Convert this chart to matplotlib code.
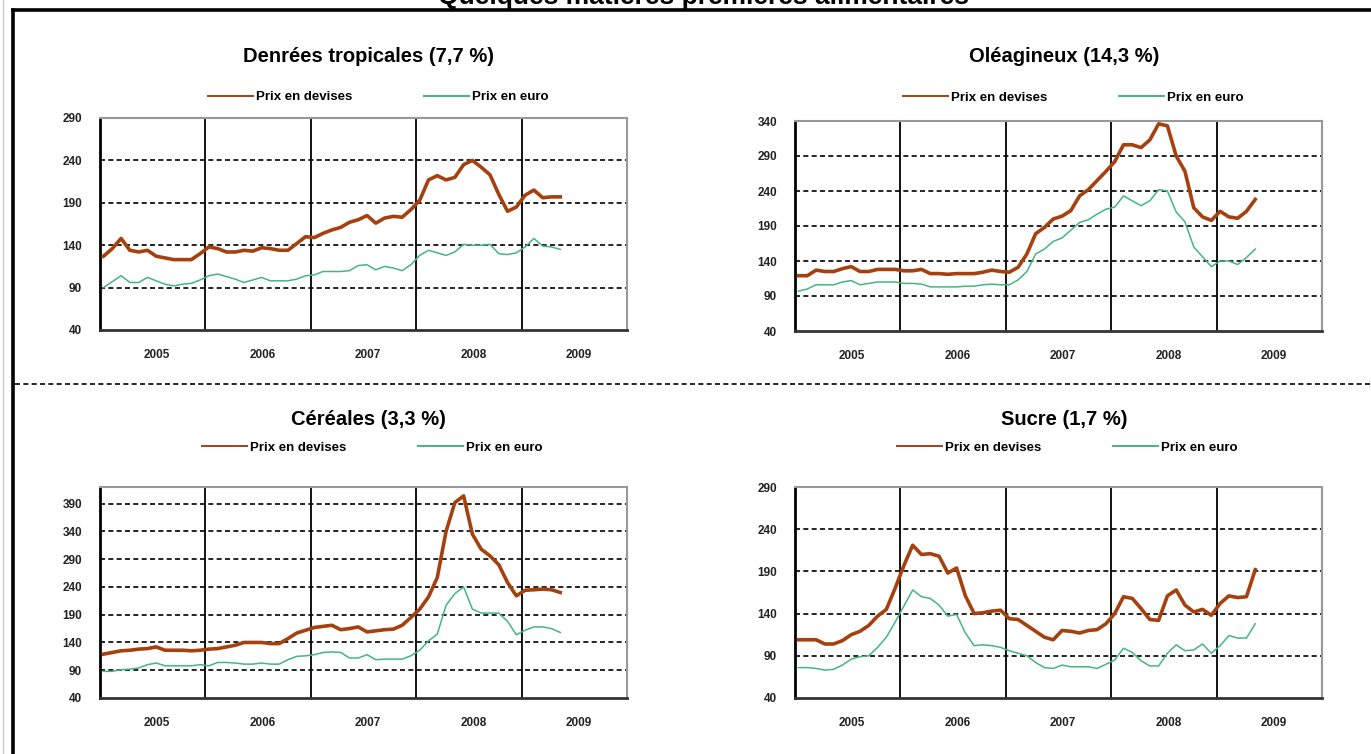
import numpy as np
import matplotlib
matplotlib.use('Agg')
import matplotlib.pyplot as plt
from matplotlib.lines import Line2D

plt.rcParams['font.family'] = ['Liberation Sans', 'DejaVu Sans']

# monthly index values, Jan 2005 .. May 2009
years = ['2005', '2006', '2007', '2008', '2009']

trop_dev = [127, 136, 148, 134, 132, 134, 127, 125, 123, 123, 123, 130,
            138, 136, 132, 132, 134, 133, 137, 136, 134, 134, 142, 150,
            149, 154, 158, 161, 167, 170, 175, 166, 172, 174, 173, 182,
            193, 217, 222, 217, 220, 235, 240, 232, 223, 200, 180, 185,
            199, 205, 196, 197, 197]
trop_eur = [90, 97, 104, 96, 96, 102, 98, 94, 92, 94, 95, 99,
            104, 106, 103, 100, 96, 99, 102, 98, 98, 98, 100, 104,
            105, 109, 109, 109, 110, 116, 117, 111, 115, 113, 110, 117,
            128, 134, 131, 128, 132, 141, 140, 140, 141, 130, 129, 131,
            138, 148, 139, 138, 135]

ole_dev = [119, 119, 127, 125, 125, 129, 132, 125, 125, 128, 128, 128,
           126, 126, 128, 122, 122, 121, 122, 122, 122, 124, 127, 125,
           124, 131, 150, 179, 188, 200, 204, 212, 233, 242, 255, 268,
           282, 306, 306, 302, 313, 336, 333, 290, 268, 216, 203, 198,
           211, 203, 201, 211, 228]
ole_eur = [97, 100, 106, 106, 106, 110, 112, 106, 108, 110, 110, 110,
           108, 108, 107, 103, 103, 103, 103, 104, 104, 106, 107, 106,
           106, 113, 125, 150, 157, 168, 173, 184, 195, 199, 207, 214,
           217, 233, 226, 219, 226, 242, 240, 210, 196, 160, 146, 132,
           140, 140, 135, 145, 157]

cer_dev = [119, 122, 125, 126, 128, 129, 132, 126, 126, 126, 125, 126,
           128, 129, 132, 135, 140, 140, 140, 138, 138, 147, 157, 162,
           167, 169, 171, 163, 165, 168, 159, 161, 163, 164, 171, 185,
           200, 222, 257, 340, 392, 404, 335, 308, 296, 280, 248, 224,
           234, 235, 236, 235, 230]
cer_eur = [88, 88, 91, 92, 94, 100, 103, 98, 98, 98, 98, 100,
           98, 104, 104, 103, 101, 101, 103, 101, 101, 109, 115, 116,
           118, 122, 123, 122, 112, 112, 118, 109, 110, 110, 110, 116,
           126, 143, 155, 207, 228, 240, 200, 193, 193, 193, 178, 154,
           162, 168, 168, 165, 158]

suc_dev = [109, 109, 109, 104, 104, 108, 115, 119, 126, 137, 145, 170,
           197, 221, 210, 211, 208, 188, 194, 161, 140, 141, 143, 144,
           134, 133, 126, 119, 112, 109, 120, 119, 117, 120, 121, 128,
           140, 160, 158, 146, 133, 132, 161, 168, 150, 142, 145, 138,
           152, 161, 159, 160, 192]
suc_eur = [76, 76, 75, 73, 74, 79, 86, 89, 90, 100, 112, 130,
           149, 168, 160, 158, 150, 137, 139, 117, 102, 103, 102, 100,
           96, 93, 90, 82, 76, 75, 79, 77, 77, 77, 75, 80,
           85, 99, 94, 84, 78, 78, 93, 103, 96, 97, 104, 93,
           102, 114, 111, 111, 128]

brown = '#A4410F'
green = '#45B681'
W, H = 1371, 754

fig = plt.figure(figsize=(W / 100, H / 100), dpi=100)


def panel(rect, dev, eur, ymax, yticks, title, title_y, leg_x, leg_y):
    ax = fig.add_axes(rect)
    x = np.arange(len(dev)) + 0.4
    ax.plot(x, dev, color=brown, lw=2.6, label='Prix en devises', zorder=4)
    ax.plot(x, eur, color=green, lw=1.1, label='Prix en euro', zorder=4)
    ax.set_xlim(0, 60)
    ax.set_ylim(40, ymax)
    for yv in yticks[1:]:
        if yv < ymax - 1:
            ax.axhline(yv, color='black', lw=1.2, ls=(0, (3, 2)), zorder=2)
    for xv in [12, 24, 36, 48]:
        ax.axvline(xv, color='black', lw=1.3, zorder=2)
    ax.set_yticks(yticks)
    ax.set_yticklabels([str(v) for v in yticks])
    ax.set_xticks(np.arange(5) * 12 + 6.5)
    ax.set_xticklabels(years)
    ax.tick_params(length=0, labelsize=8.5, colors='#222222')
    ax.tick_params(axis='y', pad=13)
    ax.tick_params(axis='x', pad=14)
    for lab in ax.get_xticklabels() + ax.get_yticklabels():
        lab.set_fontweight('bold')
    ax.spines['left'].set_linewidth(2)
    ax.spines['left'].set_color('black')
    ax.spines['bottom'].set_linewidth(2)
    ax.spines['bottom'].set_color('#333333')
    ax.spines['top'].set_color('#999999')
    ax.spines['right'].set_color('#999999')
    ax.spines['top'].set_linewidth(1.5)
    ax.spines['right'].set_linewidth(1.5)
    ax.text(0.51, title_y, title, transform=ax.transAxes, ha='center',
            va='center', fontsize=14.5, fontweight='bold')
    leg = ax.legend(loc='center', bbox_to_anchor=(leg_x, leg_y), ncol=2,
                    frameon=False, prop={'weight': 'bold', 'size': 9.5},
                    handlelength=3.4, handletextpad=0.25, columnspacing=5.4)
    for ln in leg.get_lines():
        ln.set_linewidth(1.4)
    return ax


def rect(left, top, right, bottom):
    return [left / W, 1 - bottom / H, (right - left) / W, (bottom - top) / H]


panel(rect(100, 118, 627, 330), trop_dev, trop_eur, 290,
      [40, 90, 140, 190, 240, 290], 'Denrées tropicales (7,7 %)',
      1.288, 0.528, 1.099)
panel(rect(795, 121, 1322, 331), ole_dev, ole_eur, 340,
      [40, 90, 140, 190, 240, 290, 340], 'Oléagineux (14,3 %)',
      1.305, 0.528, 1.11)
panel(rect(100, 487, 627, 698), cer_dev, cer_eur, 420,
      [40, 90, 140, 190, 240, 290, 340, 390], 'Céréales (3,3 %)',
      1.32, 0.517, 1.185)
panel(rect(795, 487, 1322, 698), suc_dev, suc_eur, 290,
      [40, 90, 140, 190, 240, 290], 'Sucre (1,7 %)',
      1.32, 0.517, 1.185)

# page frame, cut-off heading and separator
fig.text(703 / W, 1 - 4 / H, 'Quelques matières premières alimentaires',
         ha='center', va='baseline', fontsize=19, fontweight='bold')
fig.add_artist(Line2D([13 / W, 1], [1 - 9.5 / H] * 2, color='black', lw=2.6))
fig.add_artist(Line2D([13 / W] * 2, [0, 1 - 9.5 / H], color='black', lw=2.6))
fig.add_artist(Line2D([3 / W] * 2, [0, 1], color='#cccccc', lw=1))
fig.add_artist(Line2D([15 / W, 1], [1 - 384 / H] * 2, color='black',
                      lw=1.2, ls=(0, (3, 2))))

fig.savefig('out.png', dpi=100)
